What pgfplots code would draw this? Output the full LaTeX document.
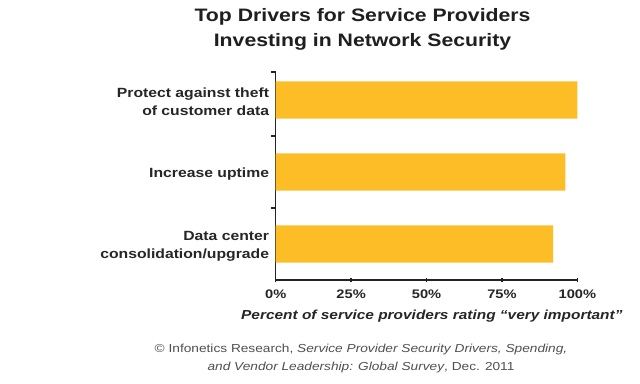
\documentclass[border=0pt]{standalone}
\usepackage{pgfplots}
\pgfplotsset{compat=1.18}
\usepackage{fontspec}
\setmainfont{Liberation Sans}[FakeStretch=1.18]
\definecolor{baryel}{RGB}{252,189,38}
\definecolor{axgray}{RGB}{35,35,35}
\definecolor{notegray}{RGB}{80,80,80}
\begin{document}
\begin{tikzpicture}
\path[use as bounding box] (0pt,0pt) rectangle (480pt,288pt);
\fill[white] (0pt,0pt) rectangle (480pt,288pt);
\node[font=\fontsize{13.5}{15}\selectfont\bfseries,text=black!88] at (271.9pt,275.25pt) {Top Drivers for Service Providers};
\node[font=\fontsize{13.5}{15}\selectfont\bfseries,text=black!88] at (271.9pt,256.5pt) {Investing in Network Security};
\begin{axis}[
  at={(206.8pt,78pt)}, anchor=south west,
  scale only axis, width=226.2pt, height=156pt,
  xbar, bar width=28.1pt, bar shift=0pt,
  xmin=0, xmax=100, ymin=0.5, ymax=3.389,
  axis lines*=left,
  axis line style={axgray, line width=1.1pt, -},
  xtick={0,25,50,75,100},
  xticklabels={0\%,25\%,50\%,75\%,100\%},
  ytick={1,2,3},
  yticklabels={{Data center\\consolidation/upgrade},{Increase uptime},{Protect against theft\\of customer data}},
  yticklabel style={align=right, font=\fontsize{10}{13.5}\selectfont\bfseries, text=black!85, xshift=-1.5pt, yshift=-1.5pt},
  xticklabel style={font=\fontsize{9.3}{11}\selectfont\bfseries, text=black!85, yshift=-3.8pt},
  major tick length=0pt,
  extra y ticks={1.5,2.5,3.389},
  extra y tick labels={},
  extra y tick style={major tick length=3.5pt, tick align=outside, tick style={axgray, line width=1pt}},
  extra x ticks={0,25,50,75,100},
  extra x tick labels={},
  extra x tick style={major tick length=3.5pt, tick align=center, tick style={axgray, line width=1pt}},
  xlabel={\itshape Percent of service providers rating “very important”},
  xlabel style={font=\fontsize{9.8}{11}\selectfont\bfseries, text=black!85, xshift=4pt, yshift=0pt},
  clip=false,
]
\addplot[fill=baryel, draw=none] coordinates {(92,1) (96,2) (100,3)};
\end{axis}
\node[font=\fontsize{8.7}{10}\selectfont, text=notegray] at (270.75pt,25.5pt) {© Infonetics Research, \textit{Service Provider Security Drivers, Spending,}};
\node[font=\fontsize{8.7}{10}\selectfont, text=notegray] at (270.75pt,12pt) {\textit{and Vendor Leadership: Global Survey}, Dec. 2011};
\end{tikzpicture}
\end{document}
